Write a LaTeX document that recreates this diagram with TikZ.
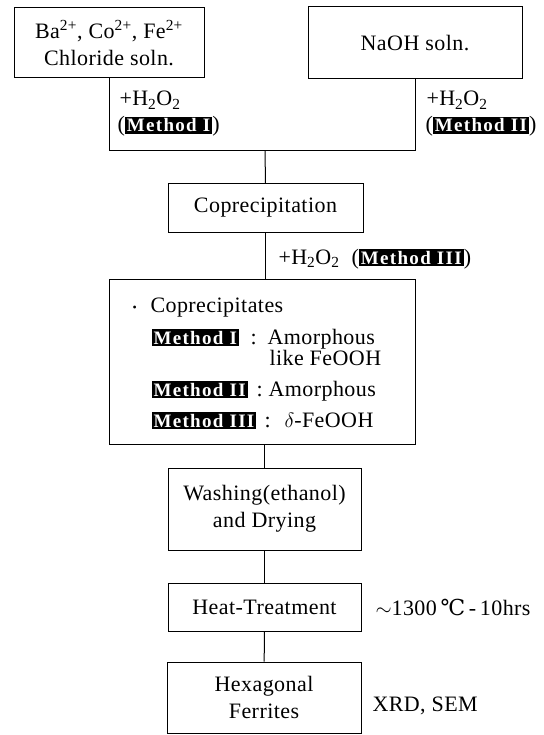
\documentclass[tikz,border=0pt]{standalone}
\usepackage{fontspec}
\setmainfont[LetterSpace=2]{Liberation Serif}
\newfontfamily\symfont{DejaVu Serif}
\newcommand{\mth}[1]{{\setlength{\fboxsep}{2pt}\colorbox{black}{\textcolor{white}{\fontsize{19}{19}\selectfont\bfseries\addfontfeatures{LetterSpace=7}#1}}}}
\newcommand{\hh}{+H\textsubscript{2}O\textsubscript{2}}
\begin{document}
\begin{tikzpicture}[x=1pt, y=-1pt, line width=1pt,
  box/.style={draw, inner sep=0pt, align=center, font=\fontsize{22}{27}\selectfont},
  lbl/.style={inner sep=0pt, anchor=base west, font=\fontsize{22}{27}\selectfont}]
\useasboundingbox (0,0) rectangle (543,735);
% top boxes
\node[box, minimum width=190pt, minimum height=70pt] (b1) at (109,43)
  {Ba\textsuperscript{2+}, Co\textsuperscript{2+}, Fe\textsuperscript{2+}\\Chloride soln.};
\node[box, minimum width=214pt, minimum height=72pt] (b2) at (415,43) {NaOH soln.};
\coordinate (jl) at (109,151);
\coordinate (jr) at (415,151);
\coordinate (jc) at (265,151);
\node[box, minimum width=195pt, minimum height=48pt] (cp) at (265.5,208) {Coprecipitation};
\draw (b1.south) -- (jl) -- (jr) -- (b2.south);
\draw (jc) -- (cp.north);
\node[lbl] (h1) at (119,106) {\hh};
\node[lbl] (m1) at (117,132) {(\mth{Method I})};
\node[lbl] (h2) at (426,106) {\hh};
\node[lbl] (m2) at (425,132) {(\mth{Method II})};
% coprecipitates
\node[box, minimum width=306pt, minimum height=165pt] (cps) at (262,361.5) {};
\draw (cp.south) -- (cp.south |- cps.north);
\node[lbl] (h3) at (278,264) {\hh\hspace{12pt}(\mth{Method III})};
\node[lbl, font=\fontsize{12}{12}\selectfont] (bul) at (132,311) {•};
\node[lbl] (cpt) at (150,312) {Coprecipitates};
\node[lbl] (r1a) at (151,344) {\mth{Method I}};
\node[lbl] (r1b) at (250,344) {:};
\node[lbl] (r1c) at (267,344) {Amorphous};
\node[lbl] (r1d) at (269,365) {like FeOOH};
\node[lbl] (r2a) at (151,396) {\mth{Method II}};
\node[lbl] (r2b) at (256,396) {:};
\node[lbl] (r2c) at (268,396) {Amorphous};
\node[lbl] (r3a) at (151,427) {\mth{Method III}};
\node[lbl] (r3b) at (264,427) {:};
\node[lbl] (r3c) at (284,427) {$\delta$-FeOOH};
% lower chain
\node[box, minimum width=193pt, minimum height=82pt] (wd) at (264.5,509) {Washing(ethanol)\\and Drying};
\node[box, minimum width=193pt, minimum height=48pt] (ht) at (264.5,607) {Heat-Treatment};
\node[box, minimum width=194pt, minimum height=71pt] (hx) at (264,697.5) {Hexagonal\\Ferrites};
\draw (cps.south -| wd.north) -- (wd.north);
\draw (wd) -- (ht);
\draw (ht) -- (hx);
\node[lbl] (tt) at (375,615) {$\sim$1300\,{\symfont ℃}\,-\,10hrs};
\node[lbl] (xs) at (372,711) {XRD, SEM};
\end{tikzpicture}
\end{document}
